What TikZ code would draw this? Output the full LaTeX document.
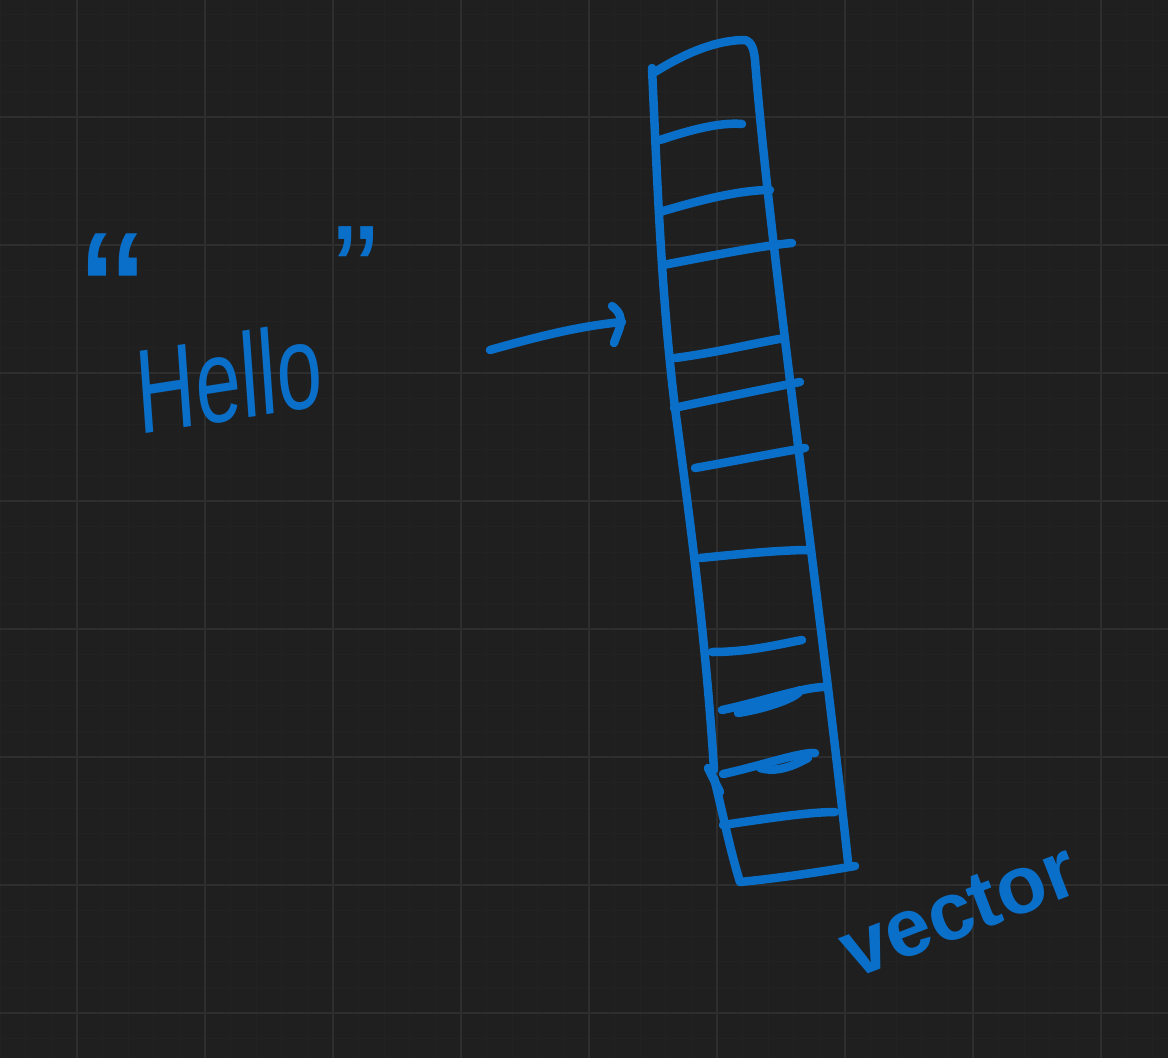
\documentclass[tikz,border=0pt]{standalone}
\usepackage{fontspec}
\setmainfont{Liberation Sans}
\usepackage{tikz}
\definecolor{board}{HTML}{1F1F1F}
\definecolor{minorline}{HTML}{222222}
\definecolor{majorline}{HTML}{2E2E2E}
\definecolor{ink}{HTML}{0A6FC9}
\tikzset{pen/.style = {draw = ink, line width = 8.5pt, line cap = round, line join = round}}
\tikzset{scrawl/.style = {text = ink, inner sep = 0pt}}

\begin{document}
\begin{tikzpicture}[x = 1pt, y = -1pt]
			\fill[board] (0, 0) rectangle (1168, 1058);
			\useasboundingbox (0, 0) rectangle (1168, 1058);

			% grid
			\foreach \k in {0, ..., 45}
				\draw[minorline, line width = 1pt] ({77 + 25.6*(\k - 3)}, 0) -- ({77 + 25.6*(\k - 3)}, 1058);
			\foreach \k in {0, ..., 42}
				\draw[minorline, line width = 1pt] (0, {117 + 25.6*(\k - 4)}) -- (1168, {117 + 25.6*(\k - 4)});
			\foreach \k in {0, ..., 8}
				\draw[majorline, line width = 1.6pt] ({77 + 128*\k}, 0) -- ({77 + 128*\k}, 1058);
			\foreach \k in {0, ..., 7}
				\draw[majorline, line width = 1.6pt] (0, {117 + 128*\k}) -- (1168, {117 + 128*\k});

			% text
			\node[scrawl, anchor = north, font = \fontsize{190}{190}\selectfont] (openq) at (113, 234) {“};
			\node[scrawl, anchor = north, font = \fontsize{135}{135}\selectfont] (closeq) at (356, 226) {”};
			\node[scrawl, anchor = base, font = \fontsize{120}{120}\selectfont, xscale = 0.68, rotate = 6, transform shape] (hello) at (232, 420) {Hello};
			\node[scrawl, anchor = base, font = \fontsize{82}{82}\selectfont\bfseries, rotate = 21, transform shape] (vec) at (968, 935) {vector};

			% arrow
			\coordinate (tail) at (490, 350);
			\coordinate (tip) at (622, 322);
			\draw[pen] (tail) .. controls (540, 336) and (580, 326) .. (tip);
			\draw[pen] (614, 343) .. controls (618, 330) and (628, 318) .. (612, 306);

			% the vector box
			\draw[pen] (652, 68) .. controls (658, 200) and (662, 300) .. (675, 408)
				.. controls (690, 520) and (706, 640) .. (714, 770);
			\draw[pen] (708, 768) -- (720, 792);
			\draw[pen] (714, 778) .. controls (722, 810) and (730, 850) .. (740, 882)
				.. controls (780, 878) and (820, 872) .. (855, 866);
			\draw[pen] (655, 72) .. controls (690, 50) and (720, 40) .. (745, 40)
				.. controls (752, 42) and (754, 50) .. (755, 60)
				.. controls (770, 250) and (820, 600) .. (848, 862);

			% cells
			\draw[pen] (660, 140) .. controls (690, 130) and (720, 122) .. (742, 124);
			\draw[pen] (660, 212) .. controls (700, 200) and (740, 190) .. (770, 190);
			\draw[pen] (663, 265) .. controls (710, 256) and (760, 246) .. (792, 243);
			\draw[pen] (675, 358) .. controls (720, 352) and (760, 342) .. (785, 338);
			\draw[pen] (674, 408) .. controls (720, 398) and (770, 388) .. (800, 382);
			\draw[pen] (695, 468) .. controls (740, 460) and (780, 452) .. (805, 448);
			\draw[pen] (700, 558) .. controls (740, 554) and (780, 550) .. (810, 550);
			\draw[pen] (712, 652) .. controls (750, 652) and (780, 644) .. (802, 640);
			\draw[pen] (722, 710) .. controls (760, 702) and (800, 688) .. (823, 687);
			\draw[pen] (738, 713) .. controls (770, 708) and (800, 696) .. (800, 690);
			\draw[pen] (723, 774) .. controls (760, 766) and (800, 752) .. (815, 753);
			\draw[pen] (760, 768) .. controls (780, 774) and (800, 762) .. (808, 758);
			\draw[pen] (723, 825) .. controls (770, 818) and (810, 812) .. (835, 812);
		\end{tikzpicture}
\end{document}
